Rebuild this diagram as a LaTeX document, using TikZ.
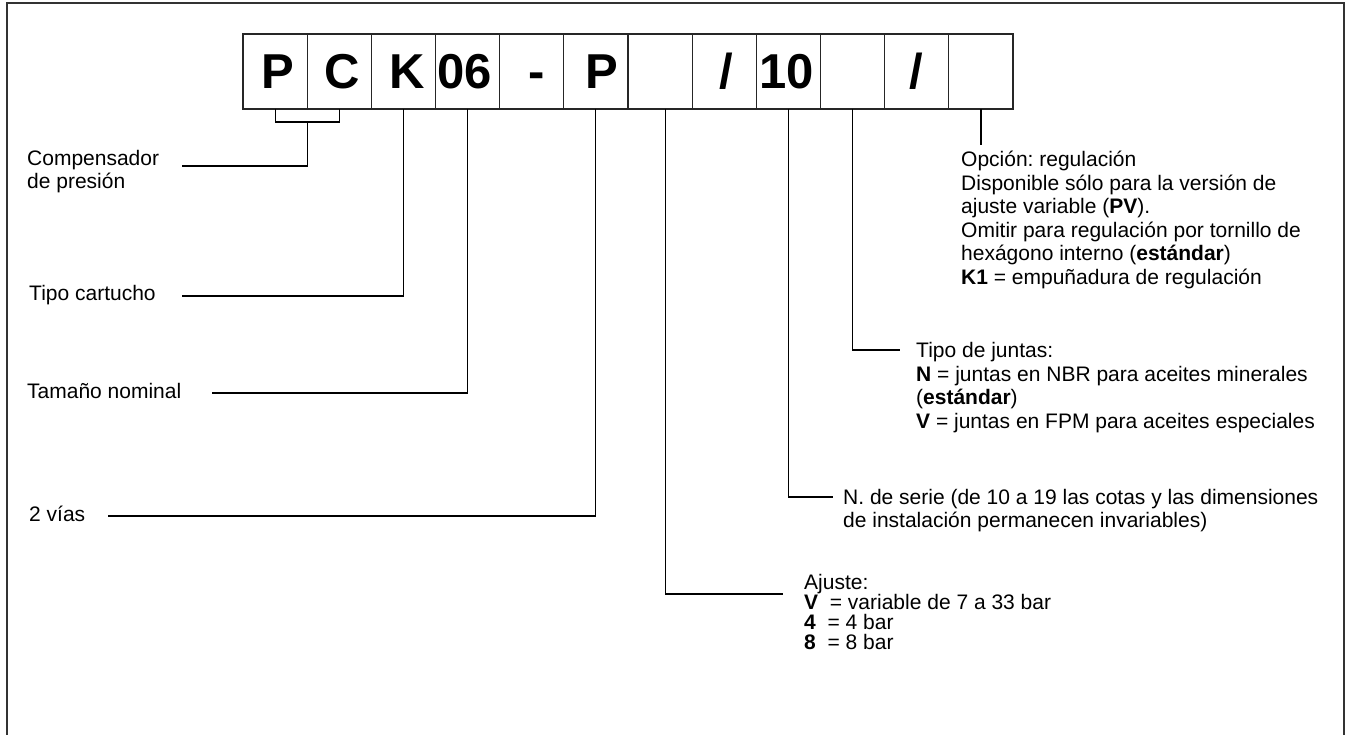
\documentclass[tikz,border=0pt]{standalone}
\usepackage{fontspec}
\setmainfont{Liberation Sans}
\usetikzlibrary{calc}
\newcommand\mystack[2]{\vtop{\baselineskip=#1\lineskiplimit=-20pt\relax #2}}
\begin{document}
\frenchspacing
\begin{tikzpicture}[x=1pt,y=-1pt,
  cell/.style={draw=black!85, line width=1.2pt, minimum width=64.17pt, minimum height=75pt,
    inner sep=0pt, outer sep=0pt, anchor=north west, text height=35pt, text depth=0pt,
    font=\fontsize{49}{49}\selectfont\bfseries},
  lbl/.style={anchor=base west, inner sep=0pt,
    font=\fontsize{21}{23}\selectfont\frenchspacing},
  conn/.style={draw=black, line width=1.1pt}]
\useasboundingbox (0,0) rectangle (1346,735);
\draw[line width=1.5pt, black!80] (7,740) -- (7,3) -- (1344,3) -- (1344,740);

% code boxes
\node[cell] (c1) at (243,34) {\kern6pt P};
\node[cell] (c2) at (c1.north east) {\kern6pt C};
\node[cell] (c3) at (c2.north east) {\kern8pt K};
\node[cell] (c4) at (c3.north east) {06\kern6pt};
\node[cell] (c5) at (c4.north east) {\kern10pt -};
\node[cell] (c6) at (c5.north east) {\kern12pt P};
\node[cell] (c7) at (c6.north east) {};
\node[cell] (c8) at (c7.north east) {\kern4pt /};
\node[cell] (c9) at (c8.north east) {10\kern4pt};
\node[cell] (c10) at (c9.north east) {};
\node[cell] (c11) at (c10.north east) {/};
\node[cell] (c12) at (c11.north east) {};

% left labels
\node[lbl] (l1) at (27,166) {\mystack{23pt}{\hbox{Compensador}\hbox{de presión}}};
\node[lbl] (l2) at (29,300) {Tipo cartucho};
\node[lbl] (l3) at (27,398) {Tamaño nominal};
\node[lbl] (l4) at (29,521) {2 vías};

\coordinate (e1) at (182,166);
\coordinate (e2) at (182,296);
\coordinate (e3) at (212,393);
\coordinate (e4) at (108,516);

% right labels
\node[lbl] (r1) at (961,167) {\mystack{23pt}{%
\hbox{Opción: regulación}\vskip1pt
\hbox{Disponible sólo para la versión de}
\hbox{ajuste variable (\textbf{PV}).}\vskip1pt
\hbox{Omitir para regulación por tornillo de}
\hbox{hexágono interno (\textbf{estándar})}\vskip1pt
\hbox{\textbf{K1} = empuñadura de regulación}}};
\node[lbl] (r2) at (916,357) {\mystack{23pt}{%
\hbox{Tipo de juntas:}\vskip1pt
\hbox{\textbf{N} = juntas en NBR para aceites minerales}
\hbox{(\textbf{estándar})}\vskip1pt
\hbox{\textbf{V} = juntas en FPM para aceites especiales}}};
\node[lbl] (r3) at (843,504) {\mystack{23pt}{%
\hbox{N. de serie (de 10 a 19 las cotas y las dimensiones}
\hbox{de instalación permanecen invariables)}}};
\node[lbl] (r4) at (804,589) {\mystack{20pt}{%
\hbox{Ajuste:}
\hbox{\textbf{V}\ \ = variable de 7 a 33 bar}
\hbox{\textbf{4}\ \ = 4 bar}
\hbox{\textbf{8}\ \ = 8 bar}}};

\coordinate (f1) at (c12.south |- 0,145);
\coordinate (f2) at (900,350);
\coordinate (f3) at (833,497);
\coordinate (f4) at (783,594);

% connectors
\coordinate (br) at ($(c1.south)+(0,13)$);
\draw[conn] (c1.south) -- (br) -| (c2.south);
\draw[conn] ($(c1.south)!0.5!(c2.south)+(0,13)$) |- (e1);
\draw[conn] (c3.south) |- (e2);
\draw[conn] (c4.south) |- (e3);
\draw[conn] (c6.south) |- (e4);
\draw[conn] ([xshift=5pt]c7.south) |- (f4);
\draw[conn] (c9.south) |- (f3);
\draw[conn] (c10.south) |- (f2);
\draw[conn] (c12.south) -- (f1);
\end{tikzpicture}
\end{document}
